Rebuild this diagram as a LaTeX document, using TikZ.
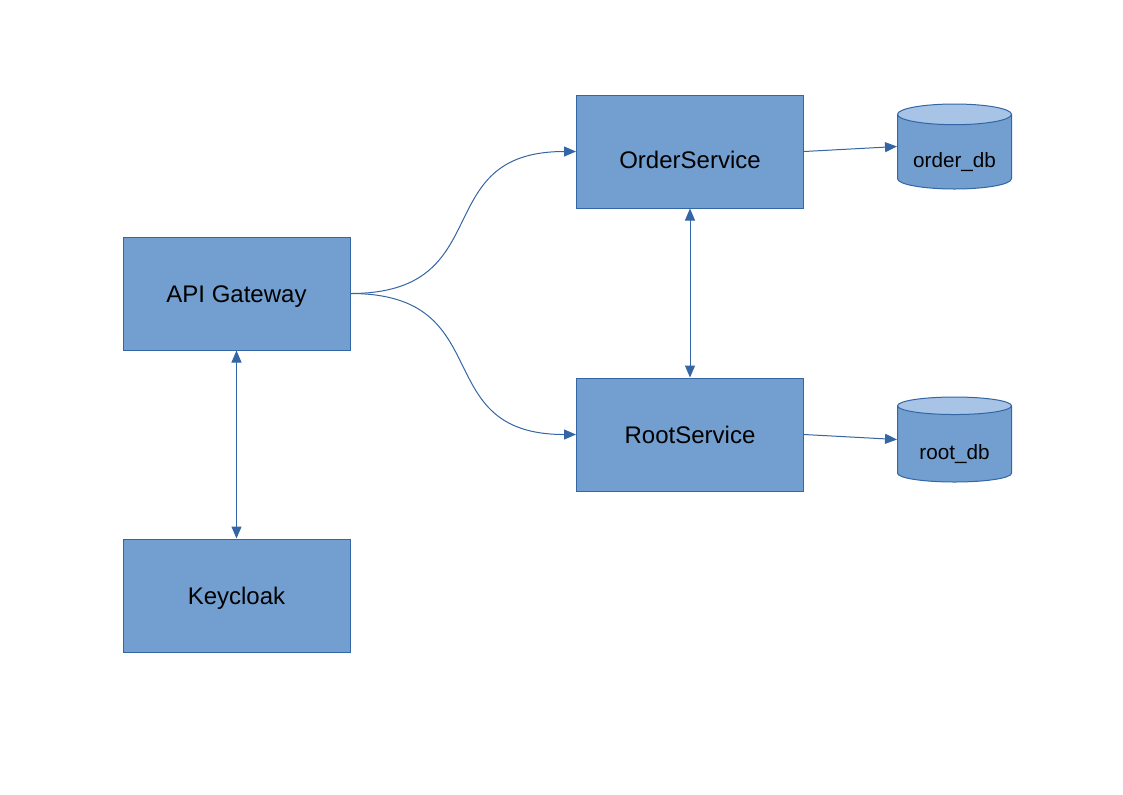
\documentclass[tikz,border=0pt]{standalone}
\usepackage{fontspec}
\setmainfont{Liberation Sans}
\usetikzlibrary{arrows.meta,shapes.geometric}

\definecolor{boxfill}{HTML}{729FCF}
\definecolor{boxline}{HTML}{3465A4}
\definecolor{dbtop}{HTML}{A7C3E6}

\tikzset{
  service/.style = {draw=boxline, fill=boxfill, line width=0.75pt,
    minimum width=170.25pt, minimum height=84.75pt, inner sep=0pt,
    font=\fontsize{18}{21}\selectfont, text height=12.9pt, text depth=0pt},
  db/.style = {cylinder, shape border rotate=90, draw=boxline, line width=0.75pt,
    cylinder uses custom fill, cylinder body fill=boxfill, cylinder end fill=dbtop,
    minimum width=85.5pt, minimum height=63.75pt, aspect=0.25, inner sep=0pt,
    anchor=shape center,
    font=\fontsize{15.5}{18}\selectfont, text height=23.5pt, text depth=0pt},
  link/.style = {draw=boxline, line width=0.75pt},
  >={Triangle[length=9pt, width=7.5pt]}
}

\begin{document}
\begin{tikzpicture}[x=0.75pt, y=-0.75pt]
    \useasboundingbox (0,0) rectangle (1123,794);
%% the boxes, placed at pixel coordinates of the sheet
    \node[service] (api) at (236.5,293.5) {API Gateway};
    \node[service] (keycloak) at (236.5,595.5) {Keycloak};
    \node[service, text height=25.2pt] (order) at (690,151.5) {OrderService};
    \node[service] (root) at (690,434.5) {RootService};
%% the two databases
    \node[db] (orderdb) at (954.5,146.5) {order\_db};
    \node[db] (rootdb) at (954.5,439.5) {root\_db};
%% connectors
    \draw[link, ->] (api.east) .. controls +(150,0) and +(-150,0) .. (order.west);
    \draw[link, ->] (api.east) .. controls +(150,0) and +(-150,0) .. (root.west);
    \draw[link, ->] (order.east) -- (orderdb.west |- orderdb.shape center);
    \draw[link, ->] (root.east) -- (rootdb.west |- rootdb.shape center);
    \draw[link, <->] (order.south) -- (root.north);
    \draw[link, <->] (api.south) -- (keycloak.north);
\end{tikzpicture}
\end{document}
